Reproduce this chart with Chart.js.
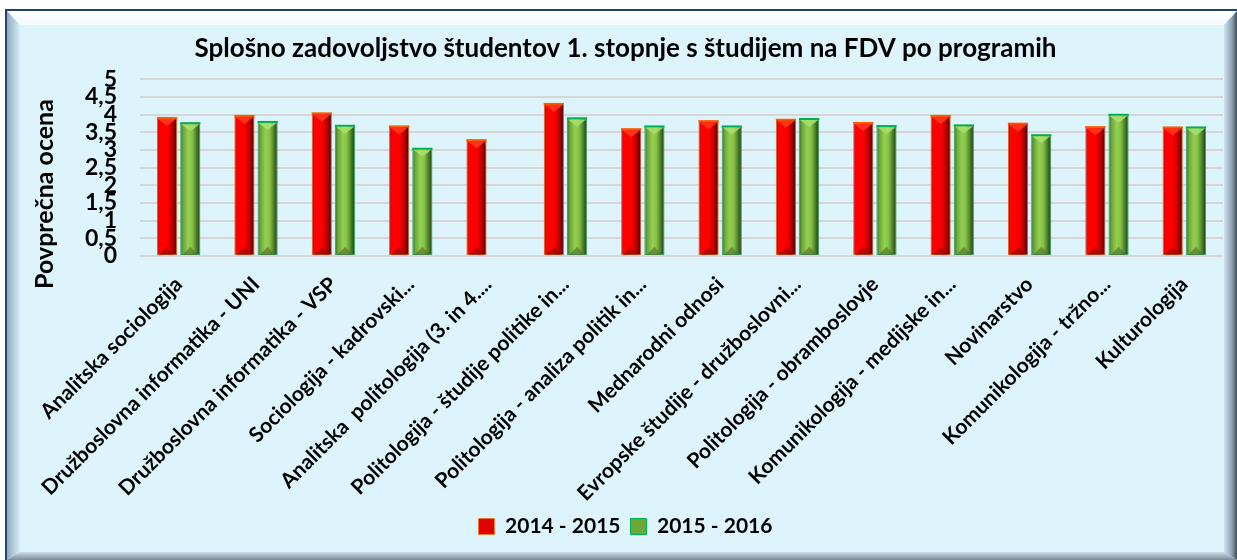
<!DOCTYPE html>
<html>
<head>
<meta charset="utf-8">
<script src="https://cdn.jsdelivr.net/npm/chart.js@4"></script>
<style>
  html, body { margin: 0; padding: 0; background: #fff; }
  #wrap { width: 1237px; height: 560px; }
</style>
</head>
<body>
<div id="wrap"><canvas id="chartCanvas" width="1237" height="560"></canvas></div>
<script>
// Data
const programmes = [
    'Analitska sociologija',
    'Družboslovna informatika - UNI',
    'Družboslovna informatika - VSP',
    'Sociologija - kadrovski...',
    'Analitska  politologija (3. in 4....',
    'Politologija - študije politike in...',
    'Politologija - analiza politik in...',
    'Mednarodni odnosi',
    'Evropske študije - družboslovni...',
    'Politologija - obramboslovje',
    'Komunikologija - medijske in...',
    'Novinarstvo',
    'Komunikologija - tržno...',
    'Kulturologija'
];
const seriesNames = ['2014 - 2015', '2015 - 2016'];
const scores1415 = [3.93, 3.99, 4.06, 3.69, 3.30, 4.33, 3.61, 3.84, 3.88, 3.79, 3.99, 3.77, 3.67, 3.66];
const scores1516 = [3.78, 3.82, 3.71, 3.06, null, 3.92, 3.69, 3.69, 3.90, 3.70, 3.72, 3.44, 4.02, 3.66];

const chartTitle = 'Splošno zadovoljstvo študentov 1. stopnje s študijem na FDV po programih';
const yTitle = 'Povprečna ocena';

const FONT = 'Lato, "Open Sans", sans-serif';
const CAT_PCT = 0.6;
const BAR_PCT = 0.87;

const redStops = [[0, '#b00000'], [0.12, '#ff0000'], [0.5, '#ff0000'], [0.78, '#b80000'], [1, '#360000']];
const greenStops = [[0, '#2f6a22'], [0.15, '#6fa63c'], [0.4, '#92d050'], [0.6, '#86c147'], [0.82, '#4a7a27'], [1, '#123c12']];

// horizontal gradient across each bar, placed with the x scale
function barFill(stops, side, solid) {
    return function (ctx) {
        const chart = ctx.chart;
        const xs = chart.scales.x;
        if (!xs || ctx.type !== 'data' || !isFinite(xs.width) || xs.width <= 0) return solid;
        const centre = xs.getPixelForValue(ctx.dataIndex);
        const slot = xs.width / programmes.length * CAT_PCT / 2;
        const w = slot * BAR_PCT;
        const cx = centre + side * slot / 2;
        if (!isFinite(cx)) return solid;
        const g = chart.ctx.createLinearGradient(cx - w / 2, 0, cx + w / 2, 0);
        stops.forEach(s => g.addColorStop(s[0], s[1]));
        return g;
    };
}

// Background frame with bevelled edges
const framePlugin = {
    id: 'frame',
    beforeDraw(chart) {
        const c = chart.ctx;
        const W = chart.width, H = chart.height;
        c.save();
        c.fillStyle = '#ffffff';
        c.fillRect(0, 0, W, H);
        c.fillStyle = '#22407a';
        c.fillRect(5, 9, W - 5, H - 9);
        c.fillStyle = '#ddf4fd';
        c.fillRect(7, 11, W - 7, H - 11);

        function poly(pts, fill) {
            c.beginPath();
            c.moveTo(pts[0][0], pts[0][1]);
            for (let i = 1; i < pts.length; i++) c.lineTo(pts[i][0], pts[i][1]);
            c.closePath();
            c.fillStyle = fill;
            c.fill();
        }
        let g = c.createLinearGradient(0, 11, 0, 25);
        g.addColorStop(0, '#ffffff');
        g.addColorStop(1, '#f2fbff');
        poly([[7, 11], [W, 11], [W - 13, 25], [20, 25]], g);

        g = c.createLinearGradient(7, 0, 20, 0);
        g.addColorStop(0, '#93aabd');
        g.addColorStop(1, '#d6eef9');
        poly([[7, 11], [20, 25], [20, H - 8], [7, H]], g);

        g = c.createLinearGradient(W - 13, 0, W, 0);
        g.addColorStop(0, '#cfe4ef');
        g.addColorStop(0.6, '#8fa3b2');
        g.addColorStop(1, '#3f4d5a');
        poly([[W, 11], [W - 13, 25], [W - 13, H - 8], [W, H]], g);

        g = c.createLinearGradient(0, H - 8, 0, H);
        g.addColorStop(0, '#cbdde8');
        g.addColorStop(1, '#7b8c98');
        poly([[7, H], [20, H - 8], [W - 13, H - 8], [W, H]], g);
        c.restore();
    }
};

// Bevel tops and bottoms on the bars, using the bar elements' own geometry
const bevelPlugin = {
    id: 'bevel',
    afterDatasetsDraw(chart) {
        const c = chart.ctx;
        const tops = ['#ff5a00', '#00b050'];
        const tris = ['#ff3a1a', '#a8e070'];
        const bots = ['#8c0a0a', '#4f6b2a'];
        chart.data.datasets.forEach((ds, di) => {
            const meta = chart.getDatasetMeta(di);
            meta.data.forEach((bar, i) => {
                if (ds.data[i] == null) return;
                const p = bar.getProps(['x', 'y', 'base', 'width'], true);
                const l = p.x - p.width / 2, r = p.x + p.width / 2;
                c.save();
                c.fillStyle = tops[di];
                c.fillRect(l, p.y, p.width, 2);
                c.beginPath();
                c.moveTo(l + 1, p.y + 2);
                c.lineTo(r - 1, p.y + 2);
                c.lineTo(p.x, p.y + 9);
                c.closePath();
                c.fillStyle = tris[di];
                c.globalAlpha = 0.85;
                c.fill();
                c.beginPath();
                c.moveTo(l + 2, p.base);
                c.lineTo(r - 2, p.base);
                c.lineTo(p.x, p.base - 8);
                c.closePath();
                c.fillStyle = bots[di];
                c.globalAlpha = 0.6;
                c.fill();
                c.restore();
            });
        });
    }
};

// Rotated axis title drawn at the spot Excel put it
const yTitlePlugin = {
    id: 'yTitle',
    afterDraw(chart) {
        const c = chart.ctx;
        c.save();
        c.translate(45, 194);
        c.rotate(-Math.PI / 2);
        c.font = 'bold 25px ' + FONT;
        c.fillStyle = '#000';
        c.textAlign = 'center';
        c.textBaseline = 'middle';
        c.fillText(yTitle, 0, 0);
        c.restore();
    }
};

const ctx = document.getElementById('chartCanvas').getContext('2d');

new Chart(ctx, {
    type: 'bar',
    data: {
        labels: programmes,
        datasets: [
            {
                label: seriesNames[0],
                data: scores1415,
                backgroundColor: barFill(redStops, -1, '#ff0000'),
                borderColor: '#d2691e',
                borderWidth: 1,
                borderSkipped: false,
                categoryPercentage: CAT_PCT,
                barPercentage: BAR_PCT
            },
            {
                label: seriesNames[1],
                data: scores1516,
                backgroundColor: barFill(greenStops, 1, '#92d050'),
                borderColor: '#3aa56a',
                borderWidth: 1,
                borderSkipped: false,
                categoryPercentage: CAT_PCT,
                barPercentage: BAR_PCT
            }
        ]
    },
    options: {
        responsive: false,
        animation: false,
        layout: {
            padding: { left: 28, right: 14, top: 33, bottom: 13 }
        },
        scales: {
            x: {
                grid: { display: false, drawTicks: false },
                border: { display: false },
                ticks: {
                    autoSkip: false,
                    maxRotation: 45,
                    minRotation: 45,
                    padding: 16,
                    color: '#000',
                    font: { family: FONT, size: 21, weight: 'bold' }
                },
                afterFit(scale) { scale.height = 250; }
            },
            y: {
                min: 0,
                max: 5,
                grid: { color: '#d6d6d6', lineWidth: 2, drawTicks: false },
                border: { display: false },
                ticks: {
                    stepSize: 0.5,
                    autoSkip: false,
                    padding: 23,
                    color: '#000',
                    font: { family: FONT, size: 23, weight: 'bold', lineHeight: 1 },
                    callback: v => String(v).replace('.', ',')
                },
                afterFit(scale) { scale.width = 112; }
            }
        },
        plugins: {
            title: {
                display: true,
                text: chartTitle,
                color: '#000',
                font: { family: FONT, size: 26, weight: 'bold' },
                padding: { top: 0, bottom: 15 }
            },
            legend: {
                position: 'bottom',
                labels: {
                    color: '#000',
                    font: { family: FONT, size: 21, weight: 'bold' },
                    boxWidth: 16,
                    boxHeight: 16,
                    padding: 10,
                    generateLabels() {
                        return [
                            { text: seriesNames[0], fillStyle: '#e00000', strokeStyle: '#ed7d31', lineWidth: 1, datasetIndex: 0 },
                            { text: seriesNames[1], fillStyle: '#6aa83a', strokeStyle: '#00b050', lineWidth: 1, datasetIndex: 1 }
                        ];
                    }
                }
            },
            tooltip: { enabled: false }
        }
    },
    plugins: [framePlugin, bevelPlugin, yTitlePlugin]
});
</script>
</body>
</html>
